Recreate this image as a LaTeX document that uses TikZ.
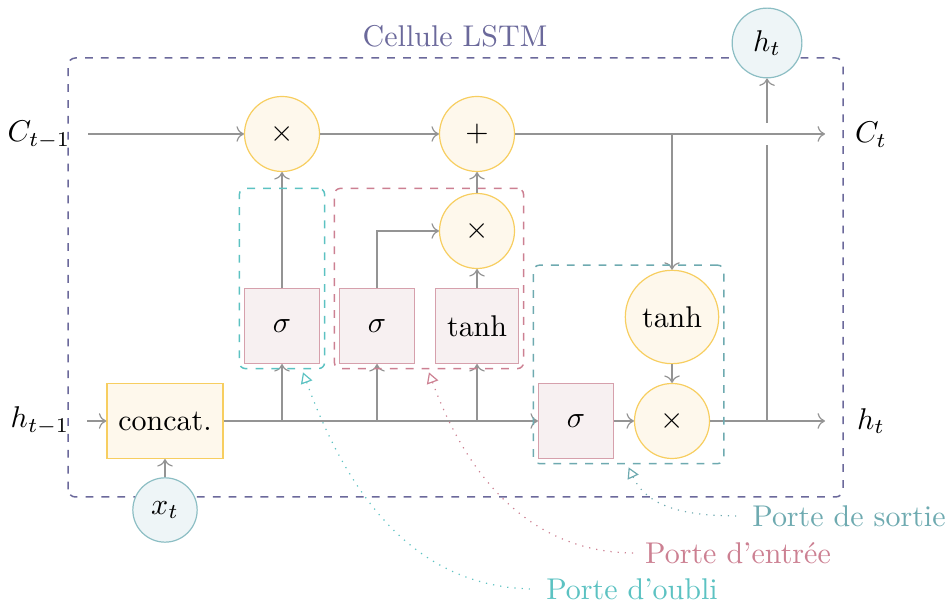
\documentclass[tikz,border=0pt]{standalone}
\usepackage{amsmath}
\usepackage{xcolor}
\usepackage{tikz}
\usetikzlibrary{positioning,%
  fit,%
  calc,%
  arrows.meta
}

\definecolor{cellpurple}{RGB}{107,105,155}
\definecolor{opyellow}{RGB}{247,206,96}
\definecolor{opfill}{RGB}{254,248,236}
\definecolor{actpink}{RGB}{214,160,172}
\definecolor{actfill}{RGB}{247,240,241}
\definecolor{ioteal}{RGB}{140,190,196}
\definecolor{iofill}{RGB}{238,245,247}
\definecolor{flowgray}{RGB}{148,148,148}
\definecolor{forgetcol}{RGB}{92,194,194}
\definecolor{inputcol}{RGB}{204,128,146}
\definecolor{outputcol}{RGB}{110,170,176}

\tikzset{
  op/.style={circle, draw=opyellow, fill=opfill, minimum size=25pt, inner sep=3.8pt},
  act/.style={rectangle, draw=actpink, fill=actfill, minimum size=25pt, inner sep=3.8pt},
  concatbox/.style={rectangle, draw=opyellow, fill=opfill, minimum height=25pt, inner sep=3.8pt},
  io/.style={circle, draw=ioteal, fill=iofill, inner sep=3.8pt},
  flow/.style={draw=flowgray, ->},
  wire/.style={draw=flowgray},
  boxdash/.style={line width=0.5pt, dash pattern=on 2.6pt off 2.7pt},
  gate/.style={draw, boxdash, rounded corners=2pt, inner sep=1.5pt},
  annot/.style={dotted, {Triangle[open,length=3.6pt,width=4pt]}-},
}

\begin{document}
\begin{tikzpicture}[x=0.3333pt, y=0.3333pt]
  \useasboundingbox (0,0) rectangle (952,606);

  % cadre de la cellule
  \draw[cellpurple, boxdash, rounded corners=2.5pt] (68,109) rectangle (843,548);
  \node[text=cellpurple] (title) at (455,570) {Cellule LSTM};

  % operations
  \node[op] (mult1) at (282,472) {$\times$};
  \node[op] (add1) at (477,472) {$+$};
  \node[op] (mult2) at (477,375) {$\times$};
  \node[act] (sig1) at (282,280) {$\sigma$};
  \node[act] (sig2) at (377,280) {$\sigma$};
  \node[act] (tanh1) at (477,280) {$\tanh$};
  \node[op] (tanh2) at (672,289) {$\tanh$};
  \node[act] (sig3) at (576,185) {$\sigma$};
  \node[op] (mult3) at (672,185) {$\times$};
  \node[concatbox] (concat) at (165,185) {concat.};
  \node[io] (xt) at (165,96) {$x_t$};
  \node[io] (ht) at (767,563) {$h_t$};

  % entrees / sorties
  \node (cprev) at (39,471) {$C_{t-1}$};
  \node (hprev) at (40,185) {$h_{t-1}$};
  \node (cnext) at (871,471) {$C_t$};
  \node (hnext) at (871,185) {$h_t$};
  \coordinate (cin) at (88,472);
  \coordinate (cout) at (825,472);
  \coordinate (hin) at (87,185);
  \coordinate (hout) at (825,185);
  \coordinate (hsplit) at (767,185);
  \coordinate (hgapb) at (767,461);
  \coordinate (hgapt) at (767,483);

  % etat de la cellule
  \draw[flow] (cin) -- (mult1);
  \draw[flow] (mult1) -- (add1);
  \draw[flow] (add1) -- (cout);

  % etat cache
  \draw[flow] (hin) -- (concat);
  \draw[flow] (xt) -- (concat);
  \draw[flow] (concat) -- (sig3);
  \draw[flow] (sig1 |- concat) -- (sig1);
  \draw[flow] (sig2 |- concat) -- (sig2);
  \draw[flow] (tanh1 |- concat) -- (tanh1);

  % portes
  \draw[flow] (sig1) -- (mult1);
  \draw[flow] (sig2) |- (mult2);
  \draw[flow] (tanh1) -- (mult2);
  \draw[flow] (mult2) -- (add1);
  \draw[flow] (tanh2 |- add1) -- (tanh2);
  \draw[flow] (tanh2) -- (mult3);
  \draw[flow] (sig3) -- (mult3);
  \draw[flow] (mult3) -- (hout);
  \draw[wire] (hsplit) -- (hgapb);
  \draw[flow] (hgapt) -- (ht);

  \node[gate, draw=forgetcol, fit=(sig1)(sig1 |- mult2.north)] (gforget) {};
  \node[gate, draw=inputcol, fit=(sig2)(tanh1)(mult2)] (ginput) {};
  \node[gate, draw=outputcol, fit=(sig3)(tanh2)(mult3)] (goutput) {};

  % legendes
  \node[text=outputcol] (loutput) at (849,90) {Porte de sortie};
  \node[text=inputcol] (linput) at (738,53) {Porte d'entrée};
  \node[text=forgetcol] (lforget) at (632,17) {Porte d'oubli};
  \draw[annot, outputcol] ([yshift=-1pt]goutput.south) to[out=-65, in=180] (loutput.west);
  \draw[annot, inputcol] ([yshift=-1pt]ginput.south) to[out=-70, in=180] (linput.west);
  \draw[annot, forgetcol] ([xshift=7pt,yshift=-1pt]gforget.south) to[out=-70, in=180] (lforget.west);
\end{tikzpicture}
\end{document}
